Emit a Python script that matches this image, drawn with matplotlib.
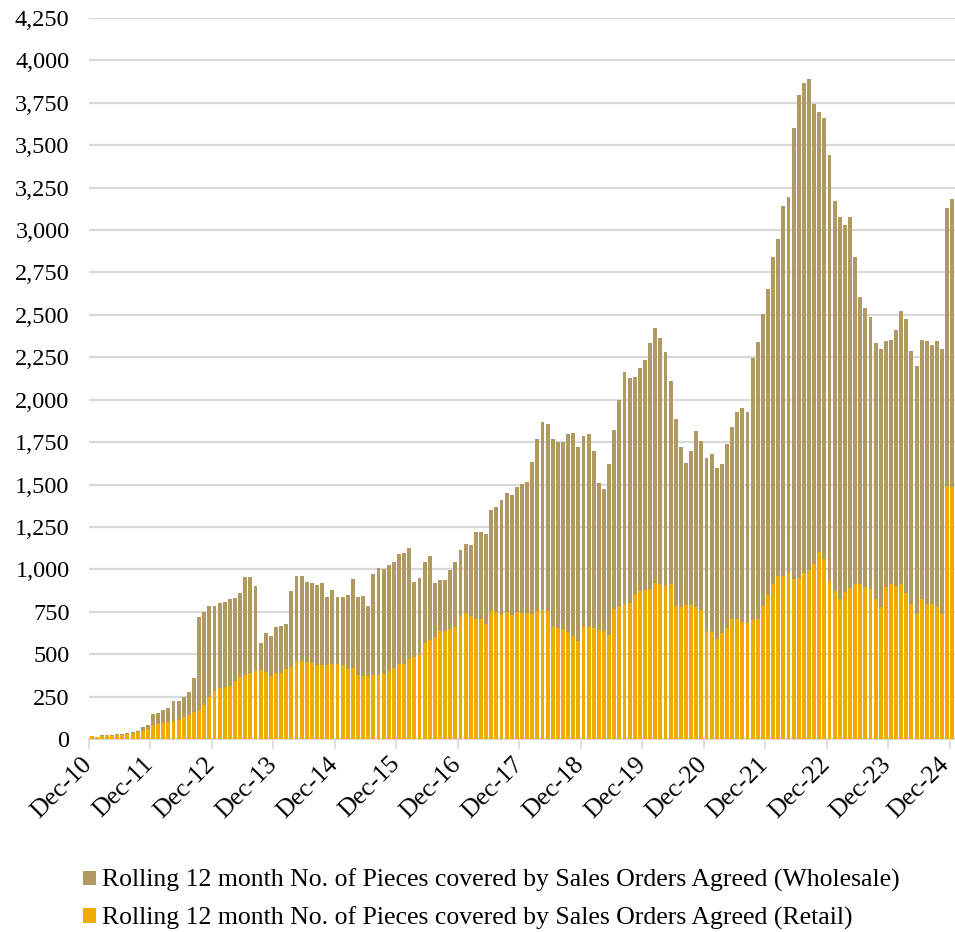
import matplotlib
matplotlib.use("Agg")
import matplotlib.pyplot as plt
import matplotlib.transforms as mtransforms
import numpy as np

plt.rcParams['font.family'] = ['Liberation Serif', 'DejaVu Serif']

months = [f"{m}-{y:02d}" for y in range(10, 25) for m in
          ["Jan", "Feb", "Mar", "Apr", "May", "Jun", "Jul", "Aug", "Sep", "Oct", "Nov", "Dec"]][11:]

retail = [16, 12, 20, 22, 20, 26, 26, 30, 31, 39, 47, 57,
          81, 88, 94, 102, 106, 112, 128, 140, 157, 171, 202, 246,
          283, 299, 307, 310, 342, 365, 375, 387, 399, 407, 393, 373,
          387, 387, 411, 424, 458, 462, 455, 448, 437, 438, 434, 442,
          442, 436, 415, 421, 377, 373, 373, 379, 375, 381, 401, 419,
          442, 442, 472, 485, 503, 564, 584, 603, 637, 637, 646, 658,
          723, 741, 727, 709, 705, 678, 757, 751, 737, 749, 733, 751,
          743, 741, 739, 753, 759, 753, 660, 656, 648, 629, 609, 578,
          660, 660, 656, 641, 635, 611, 764, 784, 796, 804, 852, 874,
          878, 882, 922, 912, 904, 916, 786, 776, 790, 790, 778, 760,
          637, 631, 588, 625, 652, 707, 707, 692, 683, 703, 710, 783,
          851, 916, 958, 963, 976, 943, 950, 980, 995, 1033, 1104, 1061,
          933, 873, 826, 868, 890, 916, 916, 897, 883, 824, 779, 897,
          916, 903, 912, 863, 798, 739, 824, 798, 794, 784, 739, 1493,
          1486]

wholesale = [4, 2, 2, 2, 2, 2, 2, 3, 8, 8, 26, 26,
             66, 67, 75, 79, 118, 114, 120, 135, 203, 550, 547, 538,
             501, 503, 503, 513, 487, 498, 578, 570, 505, 159, 232, 234,
             275, 277, 267, 448, 505, 501, 470, 471, 469, 480, 403, 434,
             395, 399, 432, 522, 458, 468, 413, 596, 631, 621, 627, 624,
             651, 656, 654, 440, 444, 481, 495, 315, 300, 302, 350, 383,
             393, 409, 417, 513, 517, 529, 591, 619, 670, 699, 703, 737,
             762, 772, 894, 1015, 1108, 1104, 1107, 1097, 1103, 1171, 1193, 1145,
             1124, 1138, 1042, 868, 841, 1010, 1056, 1212, 1366, 1326, 1282, 1312,
             1356, 1454, 1501, 1452, 1377, 1192, 1098, 943, 839, 910, 1040, 997,
             1021, 1049, 1012, 994, 1089, 1134, 1221, 1257, 1242, 1542, 1630, 1724,
             1799, 1927, 1988, 2176, 2221, 2656, 2849, 2887, 2898, 2708, 2590, 2601,
             2512, 2296, 2249, 2164, 2187, 1927, 1687, 1646, 1606, 1511, 1522, 1451,
             1434, 1508, 1609, 1615, 1489, 1458, 1530, 1546, 1530, 1562, 1560, 1639,
             1695]

y_ticks = list(range(0, 4251, 250))
label_wholesale = "Rolling 12 month No. of Pieces covered by Sales Orders Agreed (Wholesale)"
label_retail = "Rolling 12 month No. of Pieces covered by Sales Orders Agreed (Retail)"

c_whole = "#B09A62"
c_retail = "#F0AB00"

fig = plt.figure(figsize=(9.55, 9.32), dpi=100)
ax = fig.add_axes([89/955, 193/932, 866/955, 721/932])

x = np.arange(len(months)) + 0.5
ax.bar(x, retail, width=0.76, color=c_retail, label=label_retail, zorder=3)
ax.bar(x, wholesale, bottom=retail, width=0.76, color=c_whole, label=label_wholesale, zorder=3)

ax.set_xlim(0, len(months))
ax.set_ylim(0, 4250)
ax.set_yticks(y_ticks)
ax.set_yticklabels([f"{v:,}" for v in y_ticks], fontsize=17.5)
ax.yaxis.grid(True, color="#d9d9d9", linewidth=1.6, zorder=0)
ax.set_axisbelow(True)
ax.tick_params(axis='y', length=0, pad=14)

tick_idx = list(range(0, len(months), 12))
ax.set_xticks(tick_idx)
ax.set_xticklabels([months[i] for i in tick_idx], rotation=45, ha='right',
                   rotation_mode='anchor', fontsize=18.5)
ax.tick_params(axis='x', length=7, width=1.2, color="#d9d9d9", pad=3)
xlabels = ax.get_xticklabels()
for k, lbl in enumerate(xlabels):
    dx = -12 if k == len(xlabels) - 1 else -8
    offset = mtransforms.ScaledTranslation(dx/100, 0, fig.dpi_scale_trans)
    lbl.set_transform(lbl.get_transform() + offset)

for s in ['top', 'right', 'left']:
    ax.spines[s].set_visible(False)
ax.spines['bottom'].set_color("#d9d9d9")
ax.spines['bottom'].set_linewidth(1.6)

handles, labels = ax.get_legend_handles_labels()
leg = fig.legend(handles[::-1], labels[::-1], loc='upper left',
                 bbox_to_anchor=(83/955, 1 - 869/932), frameon=False,
                 borderpad=0, borderaxespad=0,
                 fontsize=18.5, handlelength=0.5, handleheight=0.5,
                 handletextpad=0.25, labelspacing=0.55)

fig.savefig("out.png", dpi=100)
